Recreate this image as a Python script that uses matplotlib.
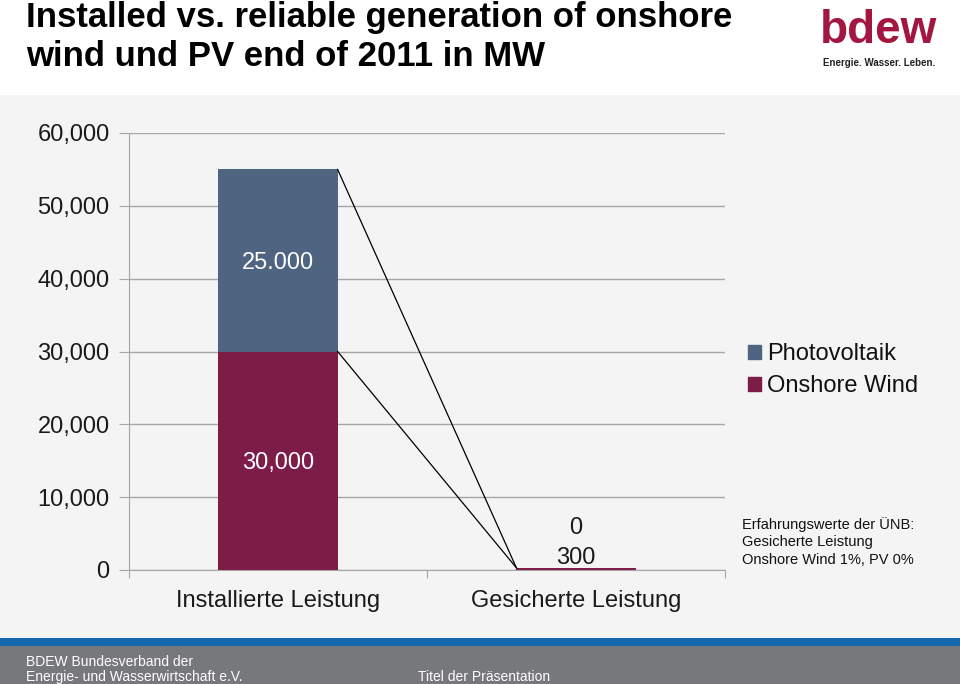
import matplotlib
matplotlib.use("Agg")
import matplotlib.pyplot as plt
from matplotlib.patches import Rectangle
from matplotlib.lines import Line2D

# ---- data ----
categories = ["Installierte Leistung", "Gesicherte Leistung"]
onshore_wind = [30000, 300]
photovoltaik = [25000, 0]
wind_labels = ["30,000", "300"]
pv_labels = ["25.000", "0"]
yticks = [0, 10000, 20000, 30000, 40000, 50000, 60000]
ytick_labels = ["0", "10,000", "20,000", "30,000", "40,000", "50,000", "60,000"]

W, H = 960, 684
plt.rcParams["font.family"] = ["Liberation Sans", "DejaVu Sans"]
fig = plt.figure(figsize=(W / 100, H / 100), dpi=100)
fig.patch.set_facecolor("#f4f4f4")

def fx(px):
    return px / W

def fy(py):
    return 1 - py / H

# header white
fig.patches.append(Rectangle((0, fy(95)), 1, 95 / H, transform=fig.transFigure,
                             facecolor="white", edgecolor="none", zorder=0))
# footer
fig.patches.append(Rectangle((0, fy(646)), 1, 8 / H, transform=fig.transFigure,
                             facecolor="#1467ad", edgecolor="none", zorder=0))
fig.patches.append(Rectangle((0, 0), 1, (H - 646) / H, transform=fig.transFigure,
                             facecolor="#77787b", edgecolor="none", zorder=0))

fig.text(fx(26), fy(17), "Installed vs. reliable generation of onshore",
         fontsize=25, fontweight="bold", va="center", ha="left")
fig.text(fx(26), fy(56), "wind und PV end of 2011 in MW",
         fontsize=25, fontweight="bold", va="center", ha="left")

# logo
fig.text(fx(879), fy(31), "bdew", fontsize=33, fontweight="bold", color="#a3163f",
         ha="center", va="center")
fig.text(fx(879), fy(63), "Energie. Wasser. Leben.", fontsize=7, fontweight="bold",
         color="#222222", ha="center", va="center")

# footer text
fig.text(fx(26), fy(662), "BDEW Bundesverband der", fontsize=10, color="white",
         ha="left", va="center")
fig.text(fx(26), fy(677), "Energie- und Wasserwirtschaft e.V.", fontsize=10, color="white",
         ha="left", va="center")
fig.text(fx(418), fy(677), "Titel der Präsentation", fontsize=10, color="white",
         ha="left", va="center")

# ---- axes ----
ax = fig.add_axes([fx(129), fy(570), fx(725) - fx(129), fy(133) - fy(570)])
ax.set_facecolor("none")
x = list(range(len(categories)))
bw = 0.4
wind_color = "#7d1c47"
pv_color = "#4e6480"
ax.bar(x, onshore_wind, width=bw, color=wind_color, label="Onshore Wind", zorder=3)
ax.bar(x, photovoltaik, width=bw, bottom=onshore_wind, color=pv_color,
       label="Photovoltaik", zorder=3)

ax.set_xlim(-0.5, len(categories) - 0.5)
ax.set_ylim(0, 60000)
ax.set_yticks(yticks)
ax.set_yticklabels(ytick_labels, fontsize=17, color="#1a1a1a")
ax.yaxis.grid(True, color="#a6a6a6", linewidth=1, zorder=0)
ax.set_axisbelow(True)
for s in ["top", "right"]:
    ax.spines[s].set_visible(False)
for s in ["left", "bottom"]:
    ax.spines[s].set_color("#a6a6a6")
ax.tick_params(axis="y", length=7, color="#a6a6a6", pad=7)
ax.set_xticks([i - 0.5 for i in range(len(categories) + 1)])
ax.set_xticklabels([])
ax.tick_params(axis="x", length=6, color="#a6a6a6")
for i, c in enumerate(categories):
    ax.annotate(c, (i, 0), xycoords="data", xytext=(0, -22), textcoords="offset points",
                ha="center", va="center", fontsize=17, color="#1a1a1a")

# value labels (first bar inside segments)
ax.text(0, onshore_wind[0] / 2 - 300, wind_labels[0], color="white", fontsize=17,
        ha="center", va="center", zorder=4)
ax.text(0, onshore_wind[0] + photovoltaik[0] / 2 - 400, pv_labels[0], color="white",
        fontsize=17, ha="center", va="center", zorder=4)
# second bar labels above
ax.annotate(wind_labels[1], (1, onshore_wind[1]), xytext=(0, 7), textcoords="offset points",
            ha="center", va="center", fontsize=17, color="#1a1a1a")
ax.annotate(pv_labels[1], (1, onshore_wind[1] + photovoltaik[1]), xytext=(0, 29),
            textcoords="offset points", ha="center", va="center", fontsize=17, color="#1a1a1a")

# connector lines
x_from = 0 + bw / 2
x_to = 1 - bw / 2
y_to = onshore_wind[1] + photovoltaik[1]
ax.add_line(Line2D([x_from, x_to], [onshore_wind[0] + photovoltaik[0], y_to],
                   color="black", linewidth=0.9, zorder=5))
ax.add_line(Line2D([x_from, x_to], [onshore_wind[0], y_to],
                   color="black", linewidth=0.9, zorder=5))

# legend
handles = [Rectangle((0, 0), 1, 1, color=pv_color), Rectangle((0, 0), 1, 1, color=wind_color)]
fig.legend(handles, ["Photovoltaik", "Onshore Wind"], loc="upper left",
           bbox_to_anchor=(fx(727), fy(322)), frameon=False, fontsize=17,
           handlelength=0.55, handleheight=0.55, handletextpad=0.25, labelspacing=0.42,
           labelcolor="#111111")

fig.text(fx(742), fy(525), "Erfahrungswerte der ÜNB:", fontsize=10.5, ha="left", va="center",
         color="#111111")
fig.text(fx(742), fy(542), "Gesicherte Leistung", fontsize=10.5, ha="left", va="center",
         color="#111111")
fig.text(fx(742), fy(560), "Onshore Wind 1%, PV 0%", fontsize=10.5, ha="left", va="center",
         color="#111111")

fig.savefig("out.png", dpi=100, facecolor=fig.get_facecolor())
